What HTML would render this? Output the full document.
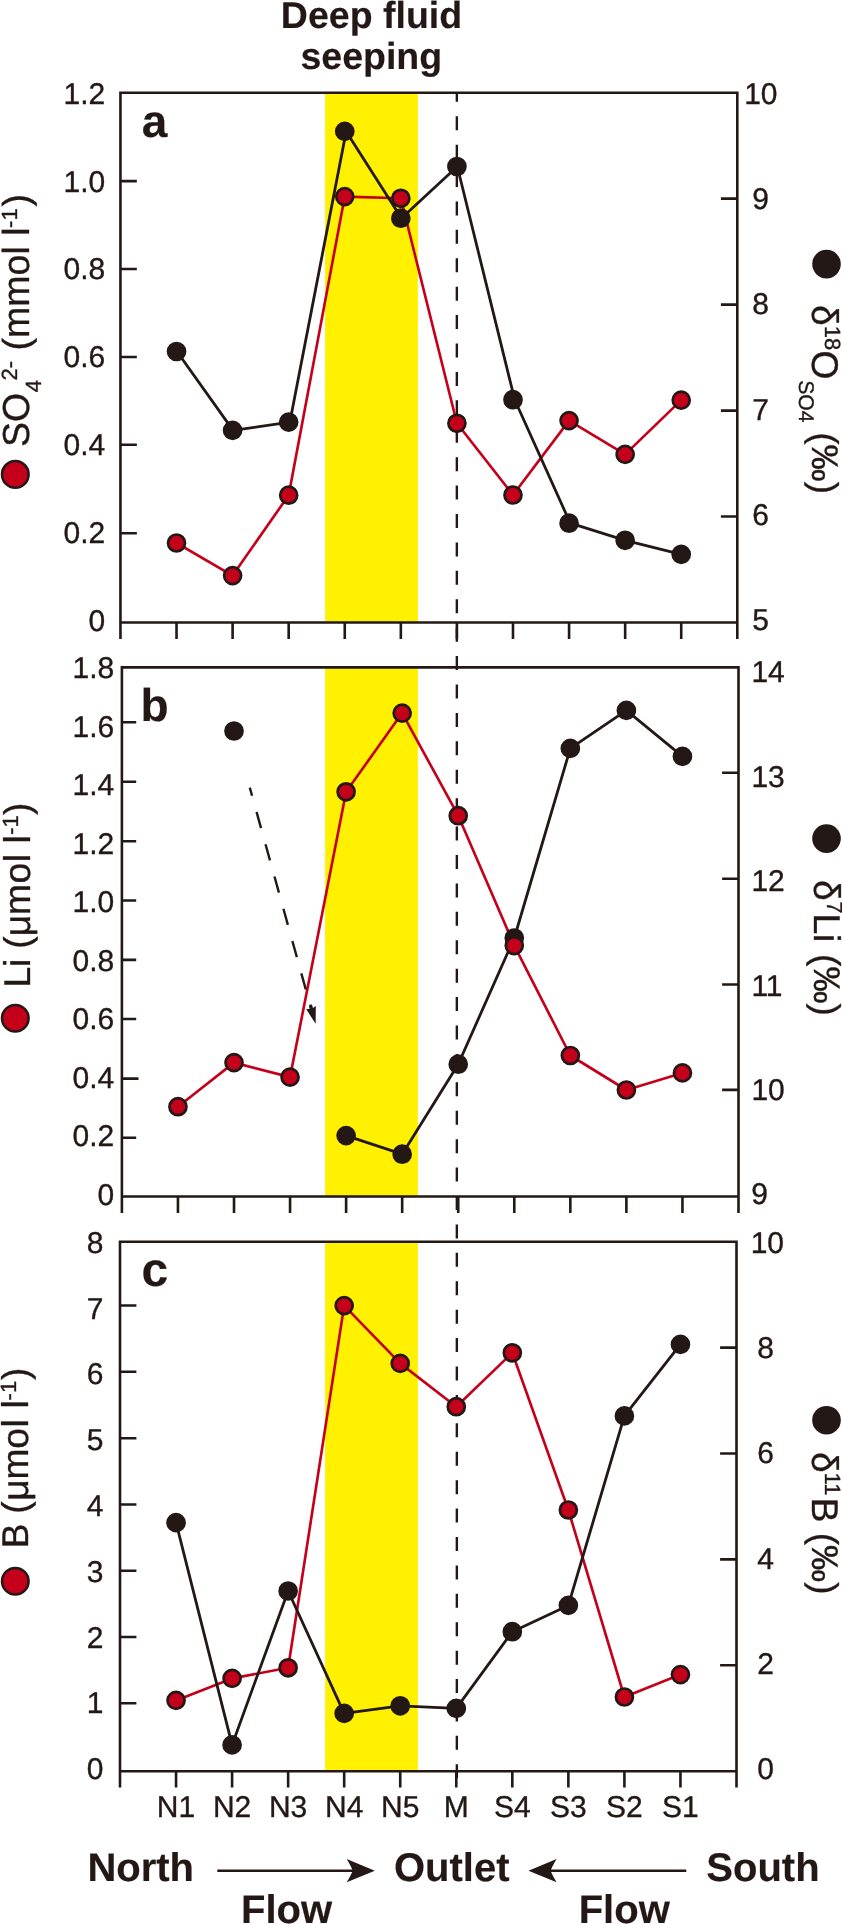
<!DOCTYPE html>
<html lang="en"><head><meta charset="utf-8"><title>Figure</title>
<style>html,body{margin:0;padding:0;background:#fff}svg{display:block;will-change:transform}svg text{text-rendering:geometricPrecision;stroke:#231815;stroke-width:.35px}svg .b text{stroke-width:.15px}</style></head>
<body>
<svg width="842" height="1924" viewBox="0 0 842 1924" font-family='"Liberation Sans", sans-serif' fill="#231815">
<rect width="842" height="1924" fill="#fff"/>
<rect x="325.1" y="92.70" width="92.8" height="529.80" fill="#fff100"/>
<rect x="325.1" y="667.40" width="92.8" height="529.10" fill="#fff100"/>
<rect x="325.1" y="1241.70" width="92.8" height="529.50" fill="#fff100"/>
<line x1="456.85" y1="92.7" x2="456.85" y2="1778.3" stroke="#231815" stroke-width="2.4" stroke-dasharray="14.0 14.415" stroke-dashoffset="4.9"/>
<path d="M120.45 638.90V92.70H737.30V638.90M120.45 622.50H737.30M176.53 622.50v16.4M232.60 622.50v16.4M288.68 622.50v16.4M344.76 622.50v16.4M400.84 622.50v16.4M456.91 622.50v16.4M512.99 622.50v16.4M569.07 622.50v16.4M625.15 622.50v16.4M681.22 622.50v16.4M120.45 181.10h16.4M120.45 269.05h16.4M120.45 357.00h16.4M120.45 444.75h16.4M120.45 533.20h16.4M737.30 198.66h-16.4M737.30 304.62h-16.4M737.30 410.58h-16.4M737.30 516.54h-16.4" fill="none" stroke="#231815" stroke-width="2.6" stroke-linejoin="miter"/>
<path d="M121.90 1212.90V667.40H738.50V1212.90M121.90 1196.50H738.50M177.95 1196.50v16.4M234.01 1196.50v16.4M290.06 1196.50v16.4M346.12 1196.50v16.4M402.17 1196.50v16.4M458.23 1196.50v16.4M514.28 1196.50v16.4M570.34 1196.50v16.4M626.39 1196.50v16.4M682.45 1196.50v16.4M121.90 722.30h14.3M121.90 781.80h14.3M121.90 841.20h14.3M121.90 900.50h14.3M121.90 959.90h14.3M121.90 1019.05h14.3M121.90 1078.60h16.6M121.90 1137.80h14.3M738.50 772.80h-16.4M738.50 878.70h-16.4M738.50 984.50h-16.4M738.50 1089.90h-16.4" fill="none" stroke="#231815" stroke-width="2.6" stroke-linejoin="miter"/>
<path d="M120.00 1787.60V1241.70H736.50V1787.60M120.00 1771.20H736.50M176.05 1771.20v16.4M232.09 1771.20v16.4M288.14 1771.20v16.4M344.18 1771.20v16.4M400.23 1771.20v16.4M456.27 1771.20v16.4M512.32 1771.20v16.4M568.36 1771.20v16.4M624.41 1771.20v16.4M680.45 1771.20v16.4M120.00 1305.50h16.4M120.00 1371.80h16.4M120.00 1438.20h16.4M120.00 1504.45h16.4M120.00 1570.80h16.4M120.00 1637.00h16.4M120.00 1703.30h16.4M736.50 1347.60h-16.4M736.50 1453.50h-16.4M736.50 1559.40h-16.4M736.50 1665.30h-16.4" fill="none" stroke="#231815" stroke-width="2.6" stroke-linejoin="miter"/>
<g font-size="30" text-anchor="end">
<text x="105.3" y="103.74">1.2</text>
<text x="105.3" y="191.54">1.0</text>
<text x="105.3" y="279.34">0.8</text>
<text x="105.3" y="367.14">0.6</text>
<text x="105.3" y="454.94">0.4</text>
<text x="105.3" y="542.74">0.2</text>
<text x="105.3" y="630.54">0</text>
</g>
<g font-size="30">
<text x="744.2" y="103.84">10</text>
<text x="752.3" y="209.14">9</text>
<text x="752.3" y="314.44">8</text>
<text x="752.3" y="419.74">7</text>
<text x="752.3" y="525.04">6</text>
<text x="752.3" y="630.34">5</text>
</g>
<g font-size="30" text-anchor="end">
<text x="114.2" y="678.04">1.8</text>
<text x="114.2" y="736.59">1.6</text>
<text x="114.2" y="795.14">1.4</text>
<text x="114.2" y="853.69">1.2</text>
<text x="114.2" y="912.24">1.0</text>
<text x="114.2" y="970.79">0.8</text>
<text x="114.2" y="1029.34">0.6</text>
<text x="114.2" y="1087.89">0.4</text>
<text x="114.2" y="1146.44">0.2</text>
<text x="114.2" y="1204.99">0</text>
</g>
<g font-size="30">
<text x="751.4" y="682.34">14</text>
<text x="751.4" y="786.74">13</text>
<text x="751.4" y="891.14">12</text>
<text x="751.4" y="995.54">11</text>
<text x="751.4" y="1099.94">10</text>
<text x="751.2" y="1204.34">9</text>
</g>
<g font-size="30" text-anchor="end">
<text x="103.4" y="1252.84">8</text>
<text x="103.4" y="1318.62">7</text>
<text x="103.4" y="1384.40">6</text>
<text x="103.4" y="1450.18">5</text>
<text x="103.4" y="1515.96">4</text>
<text x="103.4" y="1581.74">3</text>
<text x="103.4" y="1647.52">2</text>
<text x="103.4" y="1713.30">1</text>
<text x="103.4" y="1779.08">0</text>
</g>
<g font-size="30">
<text x="750.7" y="1252.74">10</text>
<text x="757.3" y="1358.04">8</text>
<text x="757.3" y="1463.34">6</text>
<text x="757.3" y="1568.64">4</text>
<text x="757.3" y="1673.94">2</text>
<text x="757.3" y="1779.24">0</text>
</g>
<g font-size="30" text-anchor="middle">
<text x="176.05" y="1817.1">N1</text>
<text x="232.09" y="1817.1">N2</text>
<text x="288.14" y="1817.1">N3</text>
<text x="344.18" y="1817.1">N4</text>
<text x="400.23" y="1817.1">N5</text>
<text x="456.27" y="1817.1">M</text>
<text x="512.32" y="1817.1">S4</text>
<text x="568.36" y="1817.1">S3</text>
<text x="624.41" y="1817.1">S2</text>
<text x="680.45" y="1817.1">S1</text>
</g>
<polyline points="176.53,543.00 232.60,575.60 288.68,495.20 344.76,196.60 400.84,198.30 456.91,423.30 512.99,495.00 569.07,420.60 625.15,454.40 681.22,400.10" fill="none" stroke="#c4001a" stroke-width="2.65" stroke-linejoin="round"/>
<polyline points="176.93,351.50 233.10,430.40 289.88,422.10 346.16,131.40 401.44,218.20 457.31,166.50 514.69,399.70 570.27,523.20 625.15,540.30 681.22,554.40" fill="none" stroke="#231815" stroke-width="2.8" stroke-linejoin="round"/>
<g fill="#231815" stroke="#231815" stroke-width="2.7">
<circle cx="176.53" cy="351.50" r="8.5"/>
<circle cx="232.60" cy="430.40" r="8.5"/>
<circle cx="288.68" cy="422.10" r="8.5"/>
<circle cx="344.76" cy="131.40" r="8.5"/>
<circle cx="400.84" cy="218.20" r="8.5"/>
<circle cx="456.91" cy="166.50" r="8.5"/>
<circle cx="512.99" cy="399.70" r="8.5"/>
<circle cx="569.07" cy="523.20" r="8.5"/>
<circle cx="625.15" cy="540.30" r="8.5"/>
<circle cx="681.22" cy="554.40" r="8.5"/>
</g>
<g fill="#c4001a" stroke="#231815" stroke-width="2.7">
<circle cx="176.53" cy="543.00" r="8.5"/>
<circle cx="232.60" cy="575.60" r="8.5"/>
<circle cx="288.68" cy="495.20" r="8.5"/>
<circle cx="344.76" cy="196.60" r="8.5"/>
<circle cx="400.84" cy="198.30" r="8.5"/>
<circle cx="456.91" cy="423.30" r="8.5"/>
<circle cx="512.99" cy="495.00" r="8.5"/>
<circle cx="569.07" cy="420.60" r="8.5"/>
<circle cx="625.15" cy="454.40" r="8.5"/>
<circle cx="681.22" cy="400.10" r="8.5"/>
</g>
<polyline points="177.95,1106.70 234.01,1062.60 290.06,1077.10 346.12,791.80 402.17,713.10 458.23,815.70 514.28,945.60 570.34,1055.50 626.39,1090.00 682.45,1072.90" fill="none" stroke="#c4001a" stroke-width="2.65" stroke-linejoin="round"/>
<polyline points="346.12,1135.60 402.17,1154.20 458.23,1064.20 514.28,938.00 570.34,748.40 626.39,710.40 682.45,756.40" fill="none" stroke="#231815" stroke-width="2.8" stroke-linejoin="round"/>
<g fill="#231815" stroke="#231815" stroke-width="2.7">
<circle cx="234.01" cy="731.00" r="8.5"/>
<circle cx="346.12" cy="1135.60" r="8.5"/>
<circle cx="402.17" cy="1154.20" r="8.5"/>
<circle cx="458.23" cy="1064.20" r="8.5"/>
<circle cx="514.28" cy="938.00" r="8.5"/>
<circle cx="570.34" cy="748.40" r="8.5"/>
<circle cx="626.39" cy="710.40" r="8.5"/>
<circle cx="682.45" cy="756.40" r="8.5"/>
</g>
<g fill="#c4001a" stroke="#231815" stroke-width="2.7">
<circle cx="177.95" cy="1106.70" r="8.5"/>
<circle cx="234.01" cy="1062.60" r="8.5"/>
<circle cx="290.06" cy="1077.10" r="8.5"/>
<circle cx="346.12" cy="791.80" r="8.5"/>
<circle cx="402.17" cy="713.10" r="8.5"/>
<circle cx="458.23" cy="815.70" r="8.5"/>
<circle cx="514.28" cy="945.60" r="8.5"/>
<circle cx="570.34" cy="1055.50" r="8.5"/>
<circle cx="626.39" cy="1090.00" r="8.5"/>
<circle cx="682.45" cy="1072.90" r="8.5"/>
</g>
<polyline points="176.05,1700.40 232.09,1678.40 288.14,1667.80 344.18,1305.60 400.23,1363.40 456.27,1406.70 512.32,1352.80 568.36,1510.00 624.41,1697.00 680.45,1674.60" fill="none" stroke="#c4001a" stroke-width="2.65" stroke-linejoin="round"/>
<polyline points="176.05,1522.60 232.09,1744.90 288.14,1591.00 344.18,1713.40 400.23,1705.80 456.27,1708.40 512.32,1631.70 568.36,1605.40 624.41,1415.90 680.45,1344.40" fill="none" stroke="#231815" stroke-width="2.8" stroke-linejoin="round"/>
<g fill="#231815" stroke="#231815" stroke-width="2.7">
<circle cx="176.05" cy="1522.60" r="8.5"/>
<circle cx="232.09" cy="1744.90" r="8.5"/>
<circle cx="288.14" cy="1591.00" r="8.5"/>
<circle cx="344.18" cy="1713.40" r="8.5"/>
<circle cx="400.23" cy="1705.80" r="8.5"/>
<circle cx="456.27" cy="1708.40" r="8.5"/>
<circle cx="512.32" cy="1631.70" r="8.5"/>
<circle cx="568.36" cy="1605.40" r="8.5"/>
<circle cx="624.41" cy="1415.90" r="8.5"/>
<circle cx="680.45" cy="1344.40" r="8.5"/>
</g>
<g fill="#c4001a" stroke="#231815" stroke-width="2.7">
<circle cx="176.05" cy="1700.40" r="8.5"/>
<circle cx="232.09" cy="1678.40" r="8.5"/>
<circle cx="288.14" cy="1667.80" r="8.5"/>
<circle cx="344.18" cy="1305.60" r="8.5"/>
<circle cx="400.23" cy="1363.40" r="8.5"/>
<circle cx="456.27" cy="1406.70" r="8.5"/>
<circle cx="512.32" cy="1352.80" r="8.5"/>
<circle cx="568.36" cy="1510.00" r="8.5"/>
<circle cx="624.41" cy="1697.00" r="8.5"/>
<circle cx="680.45" cy="1674.60" r="8.5"/>
</g>
<line x1="249.8" y1="787.6" x2="311.0" y2="1008.2" stroke="#231815" stroke-width="2.4" stroke-dasharray="16.75 16.75" stroke-dashoffset="8.25"/>
<path d="M315.65 1023.85L306.15 1009.1L309.6 1008.9L309.1 1004.8L312.0 1004.5L312.9 1008.1L315.8 1006.0Z" fill="#231815"/>
<g class="b" font-size="48" font-weight="bold">
<text x="141.7" y="136.8" font-size="46">a</text>
<text x="140.4" y="721.3" font-size="46">b</text>
<text x="141.4" y="1286">c</text>
</g>
<g class="b" font-size="37.5" font-weight="bold" text-anchor="middle">
<text x="371.5" y="27.9">Deep fluid</text>
<text x="371.3" y="69.2">seeping</text>
</g>
<g class="b" font-size="40" font-weight="bold">
<text x="87.4" y="1880.6">North</text>
<text x="394.0" y="1880.6">Outlet</text>
<text x="706.3" y="1880.6">South</text>
<text x="241" y="1923.2">Flow</text>
<text x="578.7" y="1923.2">Flow</text>
</g>
<line x1="217.3" y1="1870.7" x2="353.7" y2="1870.7" stroke="#231815" stroke-width="2.4"/>
<path d="M374.8 1870.7L346.7 1859.1000000000001Q351.1 1866.5 352.7 1870.7Q351.1 1874.9 346.7 1882.3Z" fill="#231815"/>
<line x1="686.3" y1="1870.7" x2="549.6" y2="1870.7" stroke="#231815" stroke-width="2.4"/>
<path d="M528.5 1870.7L556.6 1859.1000000000001Q552.2 1866.5 550.6 1870.7Q552.2 1874.9 556.6 1882.3Z" fill="#231815"/>
<g transform="translate(29.1 447.0) rotate(-90)">
<text x="0" y="0" font-size="37.6">SO</text>
<text x="54.7" y="11.6" font-size="22">4</text>
<text x="66.5" y="-12.5" font-size="22">2-</text>
<text x="96.5" y="0" font-size="37.6">(mmol l</text>
<text x="219.1" y="-12.5" font-size="22">-1</text>
<text x="240.5" y="0" font-size="37.6">)</text>
</g>
<circle cx="15.3" cy="474.4" r="13.3" fill="#c4001a" stroke="#231815" stroke-width="2.5"/>
<g transform="translate(30.4 987.4) rotate(-90)">
<text x="0" y="0" dx="0 -0.4 0 -0.2 0 0 0.5 0.5 0 0" font-size="37.2">Li (μmol l</text>
<text x="152.7" y="-12.5" font-size="22">-1</text>
<text x="172.3" y="0" font-size="37.2">)</text>
</g>
<circle cx="15.3" cy="1018.2" r="13.3" fill="#c4001a" stroke="#231815" stroke-width="2.5"/>
<g transform="translate(28.3 1548.2) rotate(-90)">
<text x="0" y="0" dx="0 0 -0.7 0.7 -0.3 -0.25 0.55 0 0.4" font-size="37.2">B (μmol l</text>
<text x="147.8" y="-12.5" font-size="22">-1</text>
<text x="168.1" y="0" font-size="37.2">)</text>
</g>
<circle cx="15.3" cy="1581.2" r="13.3" fill="#c4001a" stroke="#231815" stroke-width="2.5"/>
<g transform="translate(811.8 305.0) rotate(90)">
<text x="0" y="0" font-size="37.2">δ</text>
<text x="20.8" y="-13.4" font-size="22">18</text>
<text x="45.5" y="0" font-size="37.2">O</text>
<text x="75.2" y="13.2" font-size="21.2">SO4</text>
<text x="127.2" y="0" font-size="37.2">(‰)</text>
</g>
<circle cx="826.5" cy="264.1" r="14.3" fill="#231815"/>
<g transform="translate(813.5 880.0) rotate(90)">
<text x="0" y="0" font-size="37.2">δ</text>
<text x="21.2" y="-13.4" font-size="22">7</text>
<text x="33.4" y="0" font-size="37.2">Li</text>
<text x="74.0" y="0" font-size="37.2">(‰)</text>
</g>
<circle cx="826.5" cy="838.6" r="14.3" fill="#231815"/>
<g transform="translate(811.5 1452.0) rotate(90)">
<text x="0" y="0" font-size="37.2">δ</text>
<text x="20.6" y="-13.4" font-size="22">11</text>
<text x="45.7" y="0" font-size="37.2">B</text>
<text x="80.7" y="0" font-size="37.2">(‰)</text>
</g>
<circle cx="826.5" cy="1420.2" r="14.3" fill="#231815"/>
</svg>
</body></html>
